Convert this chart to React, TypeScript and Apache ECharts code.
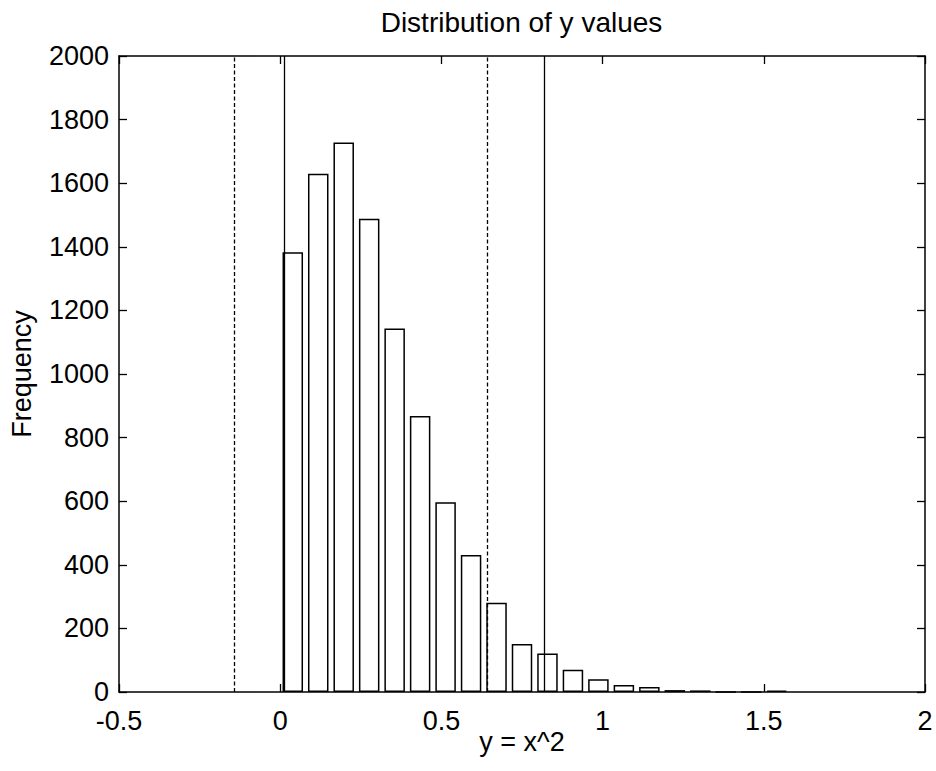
import React, { useEffect, useRef } from "react";
import * as echarts from "echarts";

const binCenters = [0.039, 0.118, 0.197, 0.276, 0.355, 0.434, 0.513, 0.592, 0.671, 0.75, 0.829, 0.908, 0.987, 1.066, 1.145, 1.224, 1.303, 1.382, 1.461, 1.54];
const counts = [1383, 1630, 1728, 1488, 1143, 868, 597, 431, 281, 151, 121, 70, 40, 22, 16, 6, 5, 0, 0, 4];
const solidLines = [0.013, 0.8175];
const dashedLines = [-0.141, 0.643];
const xTicks = [-0.5, 0, 0.5, 1, 1.5, 2];
const yTicks = [0, 200, 400, 600, 800, 1000, 1200, 1400, 1600, 1800, 2000];

const FONT = "Liberation Sans, Arial, Helvetica, sans-serif";
const GRID = { left: 118, right: 11, top: 56, bottom: 79 };
const W = 936;
const H = 771;

export default function App() {
  const ref = useRef<HTMLDivElement>(null);
  useEffect(() => {
    if (!ref.current) return;
    const chart = echarts.init(ref.current, null, { renderer: "svg" });
    const vline = (x: number, type: any) => [
      { coord: [x, yTicks[0]], lineStyle: { color: "#000", width: 1.3, type } },
      { coord: [x, yTicks[yTicks.length - 1]] },
    ];
    const tickCommon = { show: true, inside: true, length: 8, lineStyle: { color: "#000", width: 1.3 } };
    const axisLineCommon = { show: true, onZero: false, lineStyle: { color: "#000", width: 1.5 } };
    chart.setOption({
      animation: false,
      backgroundColor: "#fff",
      textStyle: { fontFamily: FONT, color: "#000" },
      graphic: [
        {
          type: "text",
          x: GRID.left + (W - GRID.left - GRID.right) / 2,
          y: 8,
          style: {
            text: "Distribution of y values",
            fontFamily: FONT,
            fontSize: 28,
            fill: "#000",
            textAlign: "center",
            textVerticalAlign: "top",
          },
        },
      ],
      grid: { ...GRID, containLabel: false },
      xAxis: [
        {
          type: "value",
          min: xTicks[0],
          max: xTicks[xTicks.length - 1],
          interval: 0.5,
          position: "bottom",
          name: "y = x^2",
          nameLocation: "middle",
          nameGap: 36,
          nameMoveOverlap: false,
          nameTextStyle: { fontFamily: FONT, fontSize: 27, color: "#000" },
          axisLine: axisLineCommon,
          axisTick: tickCommon,
          axisLabel: { fontFamily: FONT, fontSize: 27, lineHeight: 24, color: "#000", margin: 17, formatter: (v: number) => String(v) },
          splitLine: { show: false },
        },
        {
          type: "value",
          min: xTicks[0],
          max: xTicks[xTicks.length - 1],
          interval: 0.5,
          position: "top",
          axisLine: axisLineCommon,
          axisTick: tickCommon,
          axisLabel: { show: false },
          splitLine: { show: false },
        },
      ],
      yAxis: [
        {
          type: "value",
          min: yTicks[0],
          max: yTicks[yTicks.length - 1],
          interval: 200,
          position: "left",
          name: "Frequency",
          nameLocation: "middle",
          nameGap: 84,
          nameRotate: 90,
          nameMoveOverlap: false,
          nameTextStyle: { fontFamily: FONT, fontSize: 27, color: "#000" },
          axisLine: axisLineCommon,
          axisTick: tickCommon,
          axisLabel: { fontFamily: FONT, fontSize: 27, lineHeight: 22, color: "#000", margin: 10, formatter: (v: number) => String(v) },
          splitLine: { show: false },
        },
        {
          type: "value",
          min: yTicks[0],
          max: yTicks[yTicks.length - 1],
          interval: 200,
          position: "right",
          axisLine: axisLineCommon,
          axisTick: tickCommon,
          axisLabel: { show: false },
          splitLine: { show: false },
        },
      ],
      series: [
        {
          type: "bar",
          xAxisIndex: 0,
          yAxisIndex: 0,
          barWidth: 20.5,
          data: binCenters.map((c, i) => [c, counts[i]]),
          itemStyle: { color: "#fff", borderColor: "#000", borderWidth: 1.5 },
          markLine: {
            silent: true,
            symbol: "none",
            label: { show: false },
            data: [
              ...solidLines.map((x) => vline(x, "solid")),
              ...dashedLines.map((x) => vline(x, [4, 2.5])),
            ],
          },
        },
      ],
    });
    return () => chart.dispose();
  }, []);
  return <div ref={ref} style={{ width: W, height: H, position: "absolute", left: 0, top: 0 }} />;
}
